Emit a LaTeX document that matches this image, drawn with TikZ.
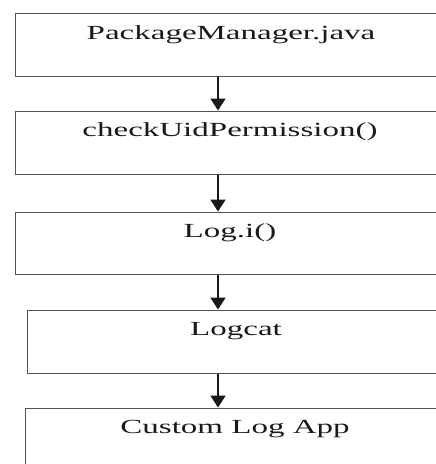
\documentclass[tikz,border=0pt]{standalone}
\usepackage{fontspec}
\setmainfont{Liberation Serif}
\usetikzlibrary{arrows.meta}
\begin{document}
\begin{tikzpicture}[x=1pt,y=-1pt,
  box/.style={draw=black!68,line width=1.3pt,rectangle,inner sep=0pt,anchor=north west},
  lbl/.style={anchor=base,inner sep=0pt,text=black!90,font=\fontsize{20}{24}\selectfont},
  flow/.style={line width=2pt,draw=black!90,-{Triangle[length=12pt,width=15pt]}}]
  \useasboundingbox (0,0) rectangle (436,464);
  \clip (0,0) rectangle (436,464);
  \fill[white] (0,0) rectangle (436,464);
  % call chain boxes
  \node[box,minimum width=425pt,minimum height=62.5pt] (b1) at (15,13) {};
  \node[box,minimum width=425pt,minimum height=63pt] (b2) at (15,110.5) {};
  \node[box,minimum width=425pt,minimum height=62.5pt] (b3) at (15,211.5) {};
  \node[box,minimum width=413pt,minimum height=63pt] (b4) at (27,309.5) {};
  \node[box,minimum width=415pt,minimum height=80pt] (b5) at (25,407.5) {};
  % labels
  \node[lbl] (t1) at (231,39) {\scalebox{1.65}[1]{PackageManager.java}};
  \node[lbl] (t2) at (230,136.5) {\scalebox{1.65}[1]{checkUidPermission()}};
  \node[lbl] (t3) at (230,237.5) {\scalebox{1.65}[1]{Log.i()}};
  \node[lbl] (t4) at (236,335.5) {\scalebox{1.65}[1]{Logcat}};
  \node[lbl] (t5) at (235,433) {\scalebox{1.65}[1]{Custom Log App}};
  % connectors
  \coordinate (ax) at (218,0);
  \draw[flow] (b1.south -| ax) -- (b2.north -| ax);
  \draw[flow] (b2.south -| ax) -- (b3.north -| ax);
  \draw[flow] (b3.south -| ax) -- (b4.north -| ax);
  \draw[flow] (b4.south -| ax) -- (b5.north -| ax);
\end{tikzpicture}
\end{document}
